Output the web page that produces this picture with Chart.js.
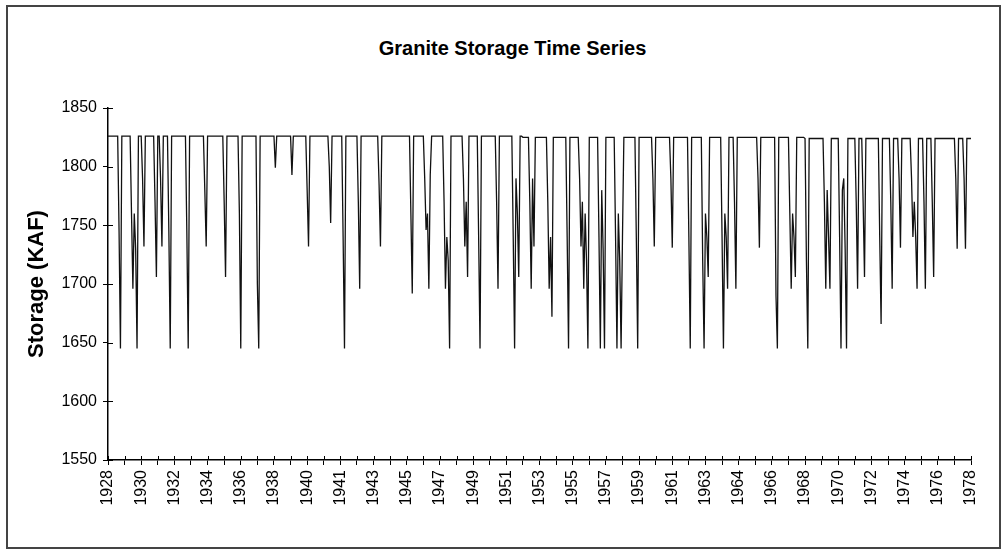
<!DOCTYPE html>
<html>
<head>
<meta charset="utf-8">
<title>Granite Storage Time Series</title>
<script src="https://cdn.jsdelivr.net/npm/chart.js@4.4.1/dist/chart.umd.min.js"></script>
<style>
  body { margin: 0; background: #fff; }
  #wrap { position: relative; width: 1004px; height: 553px; }
  #frame { position: absolute; left: 6px; top: 5px; width: 991px; height: 540px; border: 2px solid #444; }
  #title { position: absolute; left: 0; width: 1025px; top: 37px; text-align: center;
           font: bold 20px "Liberation Sans", Arial, sans-serif; color: #000; }
  canvas { position: absolute; left: 0; top: 0; }
</style>
</head>
<body>
<div id="wrap">
  <div id="frame"></div>
  <div id="title">Granite Storage Time Series</div>
  <canvas id="chart" width="1004" height="553"></canvas>
</div>
<script>
// ---------- data ----------
// tick labels under the x axis (one every 24 points)
const tickYears = ["1928", "1930", "1932", "1934", "1936", "1938", "1940", "1941", "1943",
  "1945", "1947", "1949", "1951", "1953", "1955", "1957", "1959", "1961", "1963", "1964",
  "1966", "1968", "1970", "1972", "1974", "1976", "1978"];

// storage (KAF), 12 points per row = one minor tick interval
const storage = [
  1826,1826,1826,1826,1826,1826,1826,1826,1745,1645,1826,1826,
  1826,1826,1826,1826,1826,1760,1696,1760,1730,1645,1826,1826,
  1826,1790,1732,1826,1826,1826,1826,1826,1826,1826,1770,1706,
  1826,1826,1790,1732,1826,1826,1826,1826,1745,1645,1826,1826,
  1826,1826,1826,1826,1826,1826,1826,1826,1826,1745,1645,1826,
  1826,1826,1826,1826,1826,1826,1826,1826,1826,1826,1780,1732,
  1826,1826,1826,1826,1826,1826,1826,1826,1826,1826,1826,1826,
  1770,1706,1826,1826,1826,1826,1826,1826,1826,1826,1826,1760,
  1645,1826,1826,1826,1826,1826,1826,1826,1826,1826,1826,1826,
  1700,1645,1826,1826,1826,1826,1826,1826,1826,1826,1826,1826,
  1826,1799,1826,1826,1826,1826,1826,1826,1826,1826,1826,1826,
  1826,1793,1826,1826,1826,1826,1826,1826,1826,1826,1826,1826,
  1780,1732,1826,1826,1826,1826,1826,1826,1826,1826,1826,1826,
  1826,1826,1826,1826,1800,1752,1826,1826,1826,1826,1826,1826,
  1826,1826,1740,1645,1826,1826,1826,1826,1826,1826,1826,1826,
  1826,1770,1696,1826,1826,1826,1826,1826,1826,1826,1826,1826,
  1826,1826,1826,1826,1785,1732,1826,1826,1826,1826,1826,1826,
  1826,1826,1826,1826,1826,1826,1826,1826,1826,1826,1826,1826,
  1826,1826,1826,1760,1692,1826,1826,1826,1826,1826,1826,1826,
  1826,1790,1746,1760,1696,1793,1826,1826,1826,1826,1826,1826,
  1826,1826,1826,1770,1696,1740,1720,1645,1826,1826,1826,1826,
  1826,1826,1826,1826,1826,1790,1732,1770,1706,1826,1826,1826,
  1826,1826,1826,1826,1740,1645,1826,1826,1826,1826,1826,1826,
  1826,1826,1826,1826,1826,1770,1696,1826,1826,1826,1826,1826,
  1826,1826,1826,1826,1826,1740,1645,1790,1760,1706,1826,1826,
  1825,1825,1825,1825,1825,1770,1696,1790,1732,1825,1825,1825,
  1825,1825,1825,1825,1825,1825,1770,1696,1740,1672,1825,1825,
  1825,1825,1825,1825,1825,1825,1825,1825,1740,1645,1825,1825,
  1825,1825,1825,1825,1825,1790,1732,1770,1696,1760,1720,1645,
  1825,1825,1825,1825,1825,1825,1825,1740,1645,1780,1730,1645,
  1825,1825,1825,1825,1825,1825,1825,1740,1645,1760,1720,1645,
  1740,1825,1825,1825,1825,1825,1825,1825,1825,1825,1740,1645,
  1825,1825,1825,1825,1825,1825,1825,1825,1825,1825,1790,1732,
  1825,1825,1825,1825,1825,1825,1825,1825,1825,1825,1825,1790,
  1731,1825,1825,1825,1825,1825,1825,1825,1825,1825,1825,1825,
  1740,1645,1825,1825,1825,1825,1825,1825,1825,1825,1720,1645,
  1760,1740,1706,1825,1825,1825,1825,1825,1825,1825,1825,1825,
  1740,1645,1760,1740,1696,1825,1825,1825,1825,1770,1696,1825,
  1825,1825,1825,1825,1825,1825,1825,1825,1825,1825,1825,1825,
  1825,1825,1790,1731,1825,1825,1825,1825,1825,1825,1825,1825,
  1825,1825,1825,1690,1645,1825,1825,1825,1825,1825,1825,1825,
  1825,1760,1696,1760,1740,1706,1825,1825,1825,1825,1825,1825,
  1824,1720,1645,1824,1824,1824,1824,1824,1824,1824,1824,1824,
  1824,1824,1770,1696,1780,1740,1696,1824,1824,1824,1824,1824,
  1824,1740,1645,1780,1790,1730,1645,1824,1824,1824,1824,1824,
  1824,1770,1696,1824,1824,1824,1770,1706,1824,1824,1824,1824,
  1824,1824,1824,1824,1824,1824,1740,1666,1824,1824,1824,1824,
  1824,1824,1770,1696,1824,1824,1824,1824,1790,1731,1824,1824,
  1824,1824,1824,1824,1824,1790,1740,1770,1740,1696,1824,1824,
  1824,1824,1770,1696,1824,1824,1824,1824,1770,1706,1824,1824,
  1824,1824,1824,1824,1824,1824,1824,1824,1824,1824,1824,1824,
  1824,1790,1730,1824,1824,1824,1824,1790,1730,1824,1824,1824,
  1824
];

const yMin = 1550, yMax = 1850, yStep = 50;
const pointsPerTick = 12;

// category labels: a year under every second minor tick
const labels = storage.map((v, i) => i % (2 * pointsPerTick) === 0 ? tickYears[i / (2 * pointsPerTick)] : '');

// tick marks in Excel style cross the axis, draw the inner half here
const crossTicks = {
  id: 'crossTicks',
  afterDraw(chart) {
    const { ctx, chartArea, scales } = chart;
    ctx.save();
    ctx.strokeStyle = '#000';
    ctx.lineWidth = 1;
    ctx.beginPath();
    scales.y.ticks.forEach((t, i) => {
      const py = Math.round(scales.y.getPixelForTick(i)) + 0.5;
      ctx.moveTo(chartArea.left, py);
      ctx.lineTo(chartArea.left + 5, py);
    });
    scales.x.ticks.forEach((t, i) => {
      const px = Math.round(scales.x.getPixelForTick(i)) + 0.5;
      ctx.moveTo(px, chartArea.bottom);
      ctx.lineTo(px, chartArea.bottom - 4);
    });
    ctx.stroke();
    ctx.restore();
  }
};

Chart.defaults.font.family = '"Liberation Sans", Arial, sans-serif';
Chart.defaults.color = '#000';

new Chart(document.getElementById('chart'), {
  type: 'line',
  data: {
    labels: labels,
    datasets: [{
      label: 'Storage',
      data: storage,
      borderColor: '#111',
      borderWidth: 1.3,
      pointRadius: 0,
      tension: 0,
      fill: false
    }]
  },
  options: {
    responsive: false,
    animation: false,
    layout: { padding: { left: 0, right: 33, top: 108, bottom: 0 } },
    plugins: {
      legend: { display: false },
      tooltip: { enabled: false }
    },
    scales: {
      x: {
        type: 'category',
        offset: false,
        afterBuildTicks: (scale) => {
          scale.ticks = scale.ticks.filter(t => t.value % pointsPerTick === 0);
        },
        afterFit: (scale) => { scale.height = 93; },
        grid: { drawOnChartArea: false, drawTicks: true, tickLength: 5, color: '#000' },
        border: { display: true, color: '#000', width: 1.5 },
        ticks: {
          autoSkip: false,
          maxRotation: 90,
          minRotation: 90,
          padding: 5,
          font: { size: 16 },
          callback: function (value) { return this.getLabelForValue(value); }
        }
      },
      y: {
        min: yMin,
        max: yMax,
        afterFit: (scale) => { scale.width = 108; },
        grid: { drawOnChartArea: false, drawTicks: true, tickLength: 5, color: '#000' },
        border: { display: true, color: '#000', width: 1.5 },
        ticks: {
          stepSize: yStep,
          padding: 6,
          font: { size: 16 },
          callback: (value) => String(value)
        },
        title: {
          display: true,
          text: 'Storage (KAF)',
          font: { size: 22, weight: 'bold' },
          padding: { top: 24, bottom: 0 }
        }
      }
    }
  },
  plugins: [crossTicks]
});
</script>
</body>
</html>
